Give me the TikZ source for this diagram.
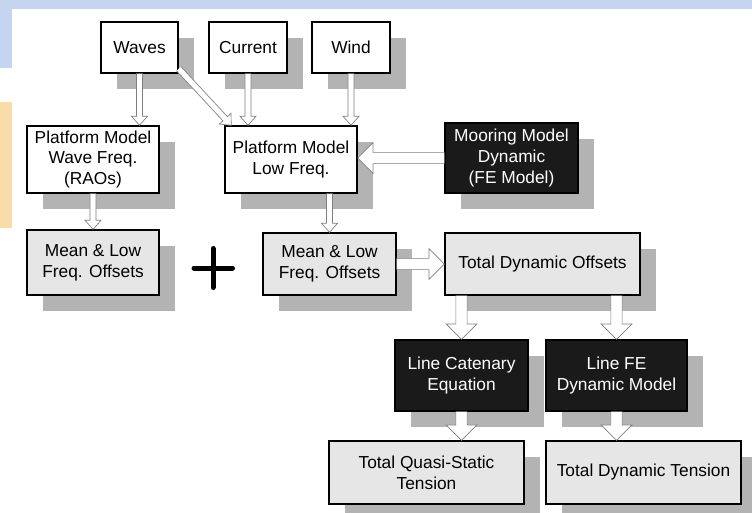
\documentclass[tikz,border=0pt]{standalone}
\usepackage{fontspec}
\setmainfont{Liberation Sans}
\usepackage{tikz}
\usetikzlibrary{calc, shadows}
\definecolor{boxgray}{HTML}{E6E6E6}
\definecolor{boxdark}{HTML}{1A1A1A}
\definecolor{shadowgray}{HTML}{B3B3B3}
\definecolor{arrowgray}{HTML}{7F7F7F}
\definecolor{bgblue}{HTML}{C6D5EF}
\definecolor{bgorange}{HTML}{F8DCA9}
% hollow block arrow: start, end, half shaft, half head, head length
\newcommand{\hollowarrow}[5]{%
  \coordinate (ha-a) at #1;
  \coordinate (ha-b) at #2;
  \coordinate (ha-h) at ($(ha-b)!#5!(ha-a)$);
  \filldraw[arrowline] ($(ha-a)!#3!90:(ha-b)$) -- ($(ha-h)!#3!90:(ha-b)$)
    -- ($(ha-h)!#4!90:(ha-b)$) -- (ha-b) -- ($(ha-h)!#4!-90:(ha-b)$)
    -- ($(ha-h)!#3!-90:(ha-b)$) -- ($(ha-a)!#3!-90:(ha-b)$);
}
\newcommand{\thinarrow}[2]{\hollowarrow{#1}{#2}{2.3pt}{6pt}{6.75pt}}
\newcommand{\widearrow}[2]{\hollowarrow{#1}{#2}{4.2pt}{11.6pt}{11.5pt}}

\tikzset{
  block/.style={draw=black, line width=1.1pt, align=center, inner sep=0pt,
    font=\fontsize{13}{15.5}\selectfont,
    general shadow={shadow xshift=12pt, shadow yshift=-12pt, fill=shadowgray}},
  whitebox/.style={block, fill=white},
  graybox/.style={block, fill=boxgray},
  darkbox/.style={block, fill=boxdark, text=white},
  arrowline/.style={draw=arrowgray, fill=white, line width=0.5pt}
}

\begin{document}
\begin{tikzpicture}[x=0.75pt, y=-0.75pt]
\useasboundingbox (0,0) rectangle (752,512);
% background
\fill[white] (0,0) rectangle (752,512);
\fill[bgblue] (0,0) rectangle (752,9);
\fill[bgblue] (0,0) rectangle (12,68);
\fill[bgorange] (0,102) rectangle (12,228);

% inputs
\node[whitebox, minimum width=57.75pt, minimum height=38.25pt] (waves) at (139.5,47.5) {Waves};
\node[whitebox, minimum width=58.5pt, minimum height=38.25pt] (current) at (248,47.5) {Current};
\node[whitebox, minimum width=58.5pt, minimum height=38.25pt] (wind) at (351,47.5) {Wind};

% models
\node[whitebox, minimum width=99pt, minimum height=50.25pt] (pmwave) at (93,159.5) {Platform Model\\Wave Freq.\\(RAOs)};
\node[whitebox, minimum width=99pt, minimum height=50.25pt] (pmlow) at (291,159.5) {Platform Model\\Low Freq.};
\node[darkbox, minimum width=99.75pt, minimum height=52.5pt] (mooring) at (511.5,158) {Mooring Model\\Dynamic\\(FE Model)};

% offsets
\node[graybox, minimum width=99pt, minimum height=48.75pt] (meanwave) at (93,262.5) {Mean \& Low\\Freq. Offsets};
\node[graybox, minimum width=99.75pt, minimum height=46.5pt] (meanlow) at (329.5,264) {Mean \& Low\\Freq. Offsets};
\node[graybox, minimum width=146.25pt, minimum height=46.5pt] (totoff) at (542.5,264) {Total Dynamic Offsets};

% line models
\node[darkbox, minimum width=99.75pt, minimum height=53.25pt] (catenary) at (461.5,375.5) {Line Catenary\\Equation};
\node[darkbox, minimum width=105.75pt, minimum height=53.25pt] (linefe) at (616.5,375.5) {Line FE\\Dynamic Model};

% tensions
\node[graybox, minimum width=146.25pt, minimum height=47.25pt] (quasi) at (426.5,472.5) {Total Quasi-Static\\Tension};
\node[graybox, minimum width=146.25pt, minimum height=47.25pt] (dyntension) at (643.5,472.5) {Total Dynamic Tension};

% plus sign
\draw[line width=3.75pt, line cap=round] (194,268) -- (232.5,268) (213,248.5) -- (213,287.5);

% arrows
\thinarrow{(waves.south)}{(waves.south |- pmwave.north)}
\thinarrow{($(waves.south east)+(0,-5)$)}{($(pmlow.north west)+(7,0)$)}
\thinarrow{(current.south)}{(current.south |- pmlow.north)}
\thinarrow{(wind.south)}{(wind.south |- pmlow.north)}
\thinarrow{(pmwave.south)}{(pmwave.south |- meanwave.north)}
\thinarrow{(meanlow.north |- pmlow.south)}{(meanlow.north)}
\widearrow{(mooring.west)}{(mooring.west -| pmlow.east)}
\widearrow{(meanlow.east)}{(meanlow.east -| totoff.west)}
\widearrow{(catenary.north |- totoff.south)}{(catenary.north)}
\widearrow{(linefe.north |- totoff.south)}{(linefe.north)}
\widearrow{(catenary.south)}{(catenary.south |- quasi.north)}
\widearrow{(linefe.south)}{(linefe.south |- dyntension.north)}
\end{tikzpicture}
\end{document}
